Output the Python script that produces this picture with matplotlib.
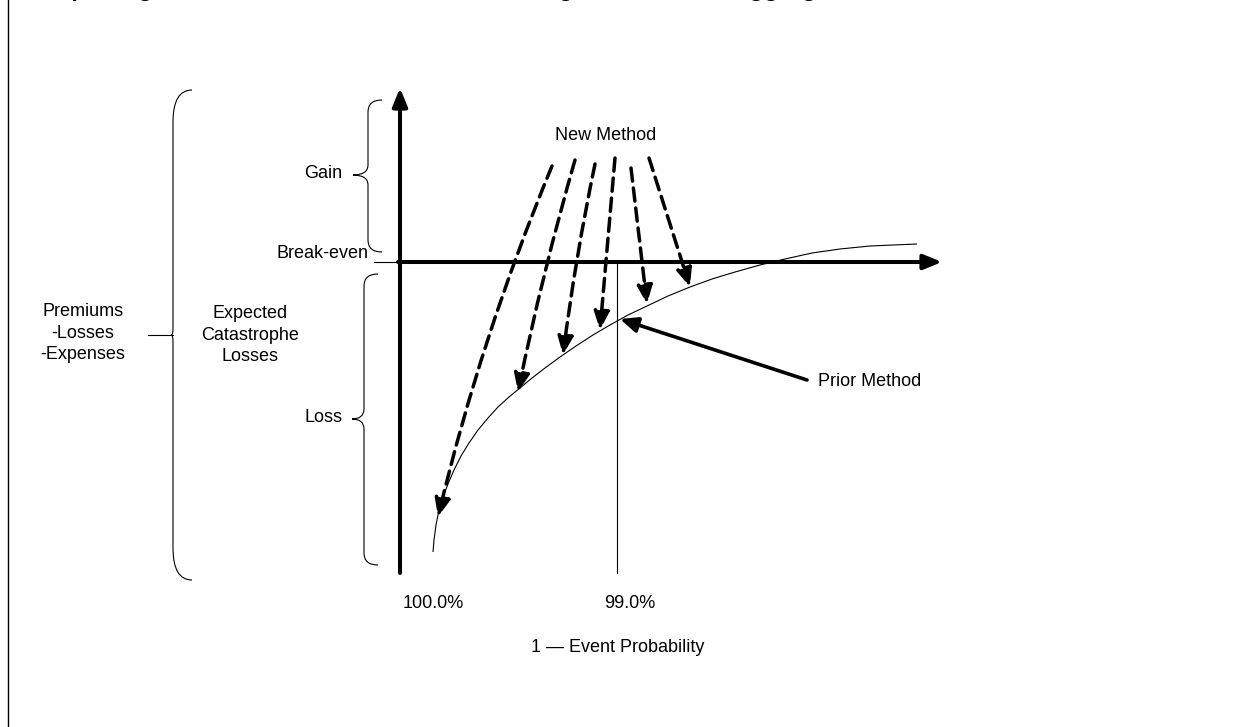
import numpy as np
import matplotlib.pyplot as plt
from matplotlib.patches import FancyArrowPatch, PathPatch
from matplotlib.path import Path

plt.rcParams['font.family'] = ['Liberation Sans', 'DejaVu Sans']

# the diagram is laid out in pixel units of the 1244x727 picture, y pointing down
title = "Repricing Under the Alternative Method Using Total Annual Aggregate Losses"

origin_x, origin_y = 400, 262          # where the two axes cross
y_axis_top, axis_bottom = 85, 573
x_axis_end = 945
line_99_x = 617

tick_labels = ['100.0%', '99.0%']
x_title = '1 \u2014 Event Probability'

# expected catastrophe loss curve
curve_x = [433, 434, 436, 439, 443, 448, 454, 461, 469, 478, 488, 498, 509, 520, 532,
           545, 560, 576, 593, 610, 628, 647, 668, 690, 712, 735, 760, 785, 812, 840, 870, 917]
curve_y = [552, 540, 525, 510, 497, 484, 470, 456, 443, 430, 418, 407, 397, 388, 378,
           368, 357, 346, 335, 325, 315, 306, 296, 287, 279, 272, 265, 259, 253, 249, 246, 244]

# "New Method" dashed arrows: start and end on the curve
new_x0 = [552, 575, 595, 615, 631, 649]
new_y0 = [166, 160, 164, 158, 168, 158]
new_x1 = [438, 518, 563, 600, 647, 690]
new_y1 = [517, 392, 355, 330, 304, 287]
new_bend = [0.04, 0.02, 0.02, 0.0, 0.0, 0.0]

# "Prior Method" arrow
prior_x = [807, 620]
prior_y = [380, 319]

fig = plt.figure(figsize=(12.44, 7.27), dpi=100)
ax = fig.add_axes([0, 0, 1, 1])
ax.set_xlim(0, 1244)
ax.set_ylim(727, 0)
ax.axis('off')

fs = 13

# frame line on the left
ax.plot([8, 8], [0, 727], color='black', lw=1.0)

# title (cut off at the top of the picture)
ax.text(39.5, -4, title, ha='left', va='baseline', fontsize=17.6, fontweight='bold', clip_on=False)

# axes with arrow heads
ax.add_patch(FancyArrowPatch((origin_x, axis_bottom), (origin_x, y_axis_top + 3),
                             arrowstyle='-|>,head_length=11,head_width=4.5',
                             lw=2.9, color='black', shrinkA=0, shrinkB=0))
ax.add_patch(FancyArrowPatch((origin_x - 2, origin_y), (x_axis_end - 3, origin_y),
                             arrowstyle='-|>,head_length=11,head_width=4.5',
                             lw=2.9, color='black', shrinkA=0, shrinkB=0))

# thin guide lines
ax.plot([374, origin_x], [origin_y, origin_y], color='black', lw=0.8)
ax.plot([line_99_x, line_99_x], [origin_y, axis_bottom], color='black', lw=0.8)
ax.plot([148, 173], [335, 335], color='black', lw=0.8)

# curve
ax.plot(curve_x, curve_y, color='black', lw=0.8, solid_capstyle='butt')


def brace(x_end, x_v, x_tip, y_top, y_mid, y_bot, r, r2):
    verts = [(x_end, y_top), (x_v, y_top), (x_v, y_top + r),
             (x_v, y_mid - r2), (x_v, y_mid), (x_tip, y_mid),
             (x_v, y_mid), (x_v, y_mid + r2),
             (x_v, y_bot - r), (x_v, y_bot), (x_end, y_bot)]
    codes = [Path.MOVETO, Path.CURVE3, Path.CURVE3,
             Path.LINETO, Path.CURVE3, Path.CURVE3,
             Path.CURVE3, Path.CURVE3,
             Path.LINETO, Path.CURVE3, Path.CURVE3]
    ax.add_patch(PathPatch(Path(verts, codes), fill=False, lw=0.8, edgecolor='black'))


brace(382, 368, 353, 100, 175, 252, 12, 10)
brace(378, 364, 352, 274, 419, 565, 12, 10)
brace(192, 173, 171, 90, 335, 580, 32, 6)

# dashed "New Method" arrows
for x0, y0, x1, y1, rad in zip(new_x0, new_y0, new_x1, new_y1, new_bend):
    ax.add_patch(FancyArrowPatch((x0, y0), (x1, y1),
                                 connectionstyle=f'arc3,rad={rad}',
                                 arrowstyle='-|>,head_length=11,head_width=4.6',
                                 lw=2.5, linestyle=(0, (3.8, 2.0)), color='black',
                                 shrinkA=0, shrinkB=0))

ax.add_patch(FancyArrowPatch((prior_x[0], prior_y[0]), (prior_x[1], prior_y[1]),
                             arrowstyle='-|>,head_length=10.5,head_width=4.6',
                             lw=2.6, color='black', shrinkA=0, shrinkB=0))

# labels
ax.text(606, 136, 'New Method', ha='center', va='center', fontsize=fs)
ax.text(818, 382, 'Prior Method', ha='left', va='center', fontsize=fs)
ax.text(368, 254, 'Break-even', ha='right', va='center', fontsize=fs)
ax.text(342, 174, 'Gain', ha='right', va='center', fontsize=fs)
ax.text(342, 418, 'Loss', ha='right', va='center', fontsize=fs)
ax.text(83, 333, 'Premiums\n-Losses\n-Expenses', ha='center', va='center',
        fontsize=fs, linespacing=1.33)
ax.text(250, 335, 'Expected\nCatastrophe\nLosses', ha='center', va='center',
        fontsize=fs, linespacing=1.33)
ax.text(433, 603, tick_labels[0], ha='center', va='center', fontsize=fs)
ax.text(630, 603, tick_labels[1], ha='center', va='center', fontsize=fs)
ax.text(618, 647, x_title, ha='center', va='center', fontsize=fs)

fig.savefig('out.png', dpi=100)
